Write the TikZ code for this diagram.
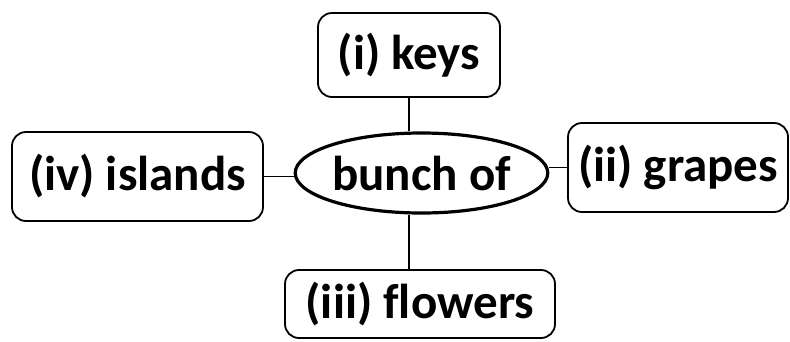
\documentclass[tikz,border=0pt]{standalone}
\usepackage{fontspec}
\setmainfont{Carlito}[Ligatures=NoCommon]
\usetikzlibrary{shapes.geometric}

\begin{document}
\begin{tikzpicture}[
  x=1pt, y=-1pt,
  word/.style = {draw, line width=1.8pt, rounded corners=14pt, inner sep=0pt,
                 font=\fontsize{49}{52}\selectfont\bfseries},
  hub/.style  = {draw, ellipse, line width=3.2pt, inner sep=0pt,
                 font=\fontsize{49}{52}\selectfont\bfseries},
  link/.style = {line width=1.6pt}
]
  \useasboundingbox (0,0) rectangle (790,341);

  % centre word
  \node[hub, minimum width=237pt, minimum height=80pt] (bunch) at (421.5,173) {bunch of};

  % the four answers
  \node[word, minimum width=182pt, minimum height=84pt] (keys)    at (409,55)    {(i) keys};
  \node[word, minimum width=220pt, minimum height=89pt] (grapes)  at (678,167.5) {(ii) grapes};
  \node[word, minimum width=270pt, minimum height=68pt] (flowers) at (420,304)   {(iii) flowers};
  \node[word, minimum width=251pt, minimum height=89pt] (islands) at (137.5,176.5) {(iv) islands};

  % links to the centre
  \draw[link] (keys.south) -- (keys.south |- bunch.north);
  \draw[link] (bunch.east |- grapes.west) -- (grapes.west);
  \draw[link] (bunch.south -| keys.south) -- (keys.south |- flowers.north);
  \draw[link] (islands.east) -- (bunch.west |- islands.east);

\end{tikzpicture}
\end{document}
